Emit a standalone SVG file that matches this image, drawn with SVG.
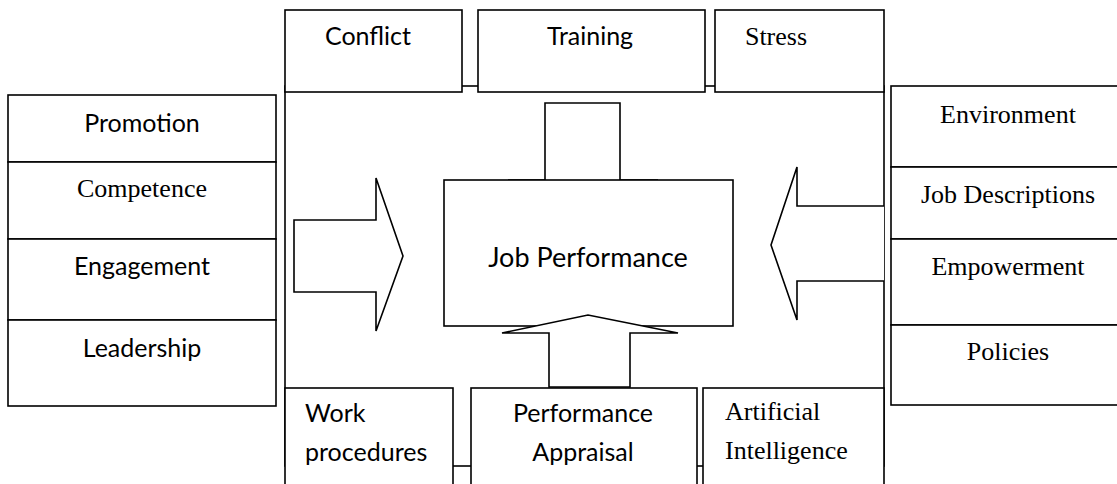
<svg xmlns="http://www.w3.org/2000/svg" width="1117" height="484" viewBox="0 0 1117 484">
<style>
.b{fill:#fff;stroke:#000;stroke-width:1.6}
.s{font-family:Lato,"Liberation Sans",sans-serif;font-size:25px;fill:#000}
.r{font-family:"Liberation Serif",serif;font-size:26px;fill:#000}
.c{text-anchor:middle}
</style>
<rect width="1117" height="484" fill="#fff"/>
<g id="connectors">
<rect class="b" x="285" y="86" width="599" height="380"/>
<path id="arrow-top" class="b" d="M545,103 H620 V180 H658 L584,192 L508,180 H545 Z"/>
<path id="arrow-left" class="b" d="M294,220 H376 V178 L403,256 L376,331 V292 H294 Z"/>
<path id="arrow-right" class="b" d="M884,206 H797 V167 L771,245 L797,320 V281 H884"/>
</g>
<g id="job-performance">
<rect class="b" x="444" y="180" width="289" height="146"/>
<text class="s c" x="588" y="267" style="font-size:27px">Job Performance</text>
</g>
<path id="arrow-bottom" class="b" d="M549,387 V333 H502 L588,315 L678,333 H630 V387 Z"/>
<g id="conflict"><rect class="b" x="285" y="10" width="177" height="82"/><text class="s c" x="368" y="45">Conflict</text></g>
<g id="training"><rect class="b" x="478" y="10" width="227" height="82"/><text class="s c" x="590" y="45">Training</text></g>
<g id="stress"><rect class="b" x="715" y="10" width="169" height="82"/><text class="r c" x="776" y="45">Stress</text></g>
<g id="promotion"><rect class="b" x="8" y="95" width="268" height="67"/><text class="s c" x="142" y="132">Promotion</text></g>
<g id="competence"><rect class="b" x="8" y="162" width="268" height="77"/><text class="r c" x="142" y="197">Competence</text></g>
<g id="engagement"><rect class="b" x="8" y="239" width="268" height="81"/><text class="s c" x="142" y="275">Engagement</text></g>
<g id="leadership"><rect class="b" x="8" y="320" width="268" height="86"/><text class="s c" x="142" y="357">Leadership</text></g>
<g id="environment"><rect class="b" x="891" y="86" width="235" height="81"/><text class="r c" x="1008" y="123">Environment</text></g>
<g id="job-descriptions"><rect class="b" x="891" y="167" width="235" height="72"/><text class="r c" x="1008" y="203">Job Descriptions</text></g>
<g id="empowerment"><rect class="b" x="891" y="239" width="235" height="86"/><text class="r c" x="1008" y="275">Empowerment</text></g>
<g id="policies"><rect class="b" x="891" y="325" width="235" height="80"/><text class="r c" x="1008" y="360">Policies</text></g>
<g id="work-procedures"><rect class="b" x="285" y="388" width="168" height="110"/><text class="s" x="305" y="422">Work</text><text class="s" x="305" y="461">procedures</text></g>
<g id="performance-appraisal"><rect class="b" x="471" y="388" width="226" height="110"/><text class="s c" x="583" y="422">Performance</text><text class="s c" x="583" y="461">Appraisal</text></g>
<g id="artificial-intelligence"><rect class="b" x="703" y="388" width="181" height="110"/><text class="r" x="725" y="420">Artificial</text><text class="r" x="725" y="459">Intelligence</text></g>
</svg>
